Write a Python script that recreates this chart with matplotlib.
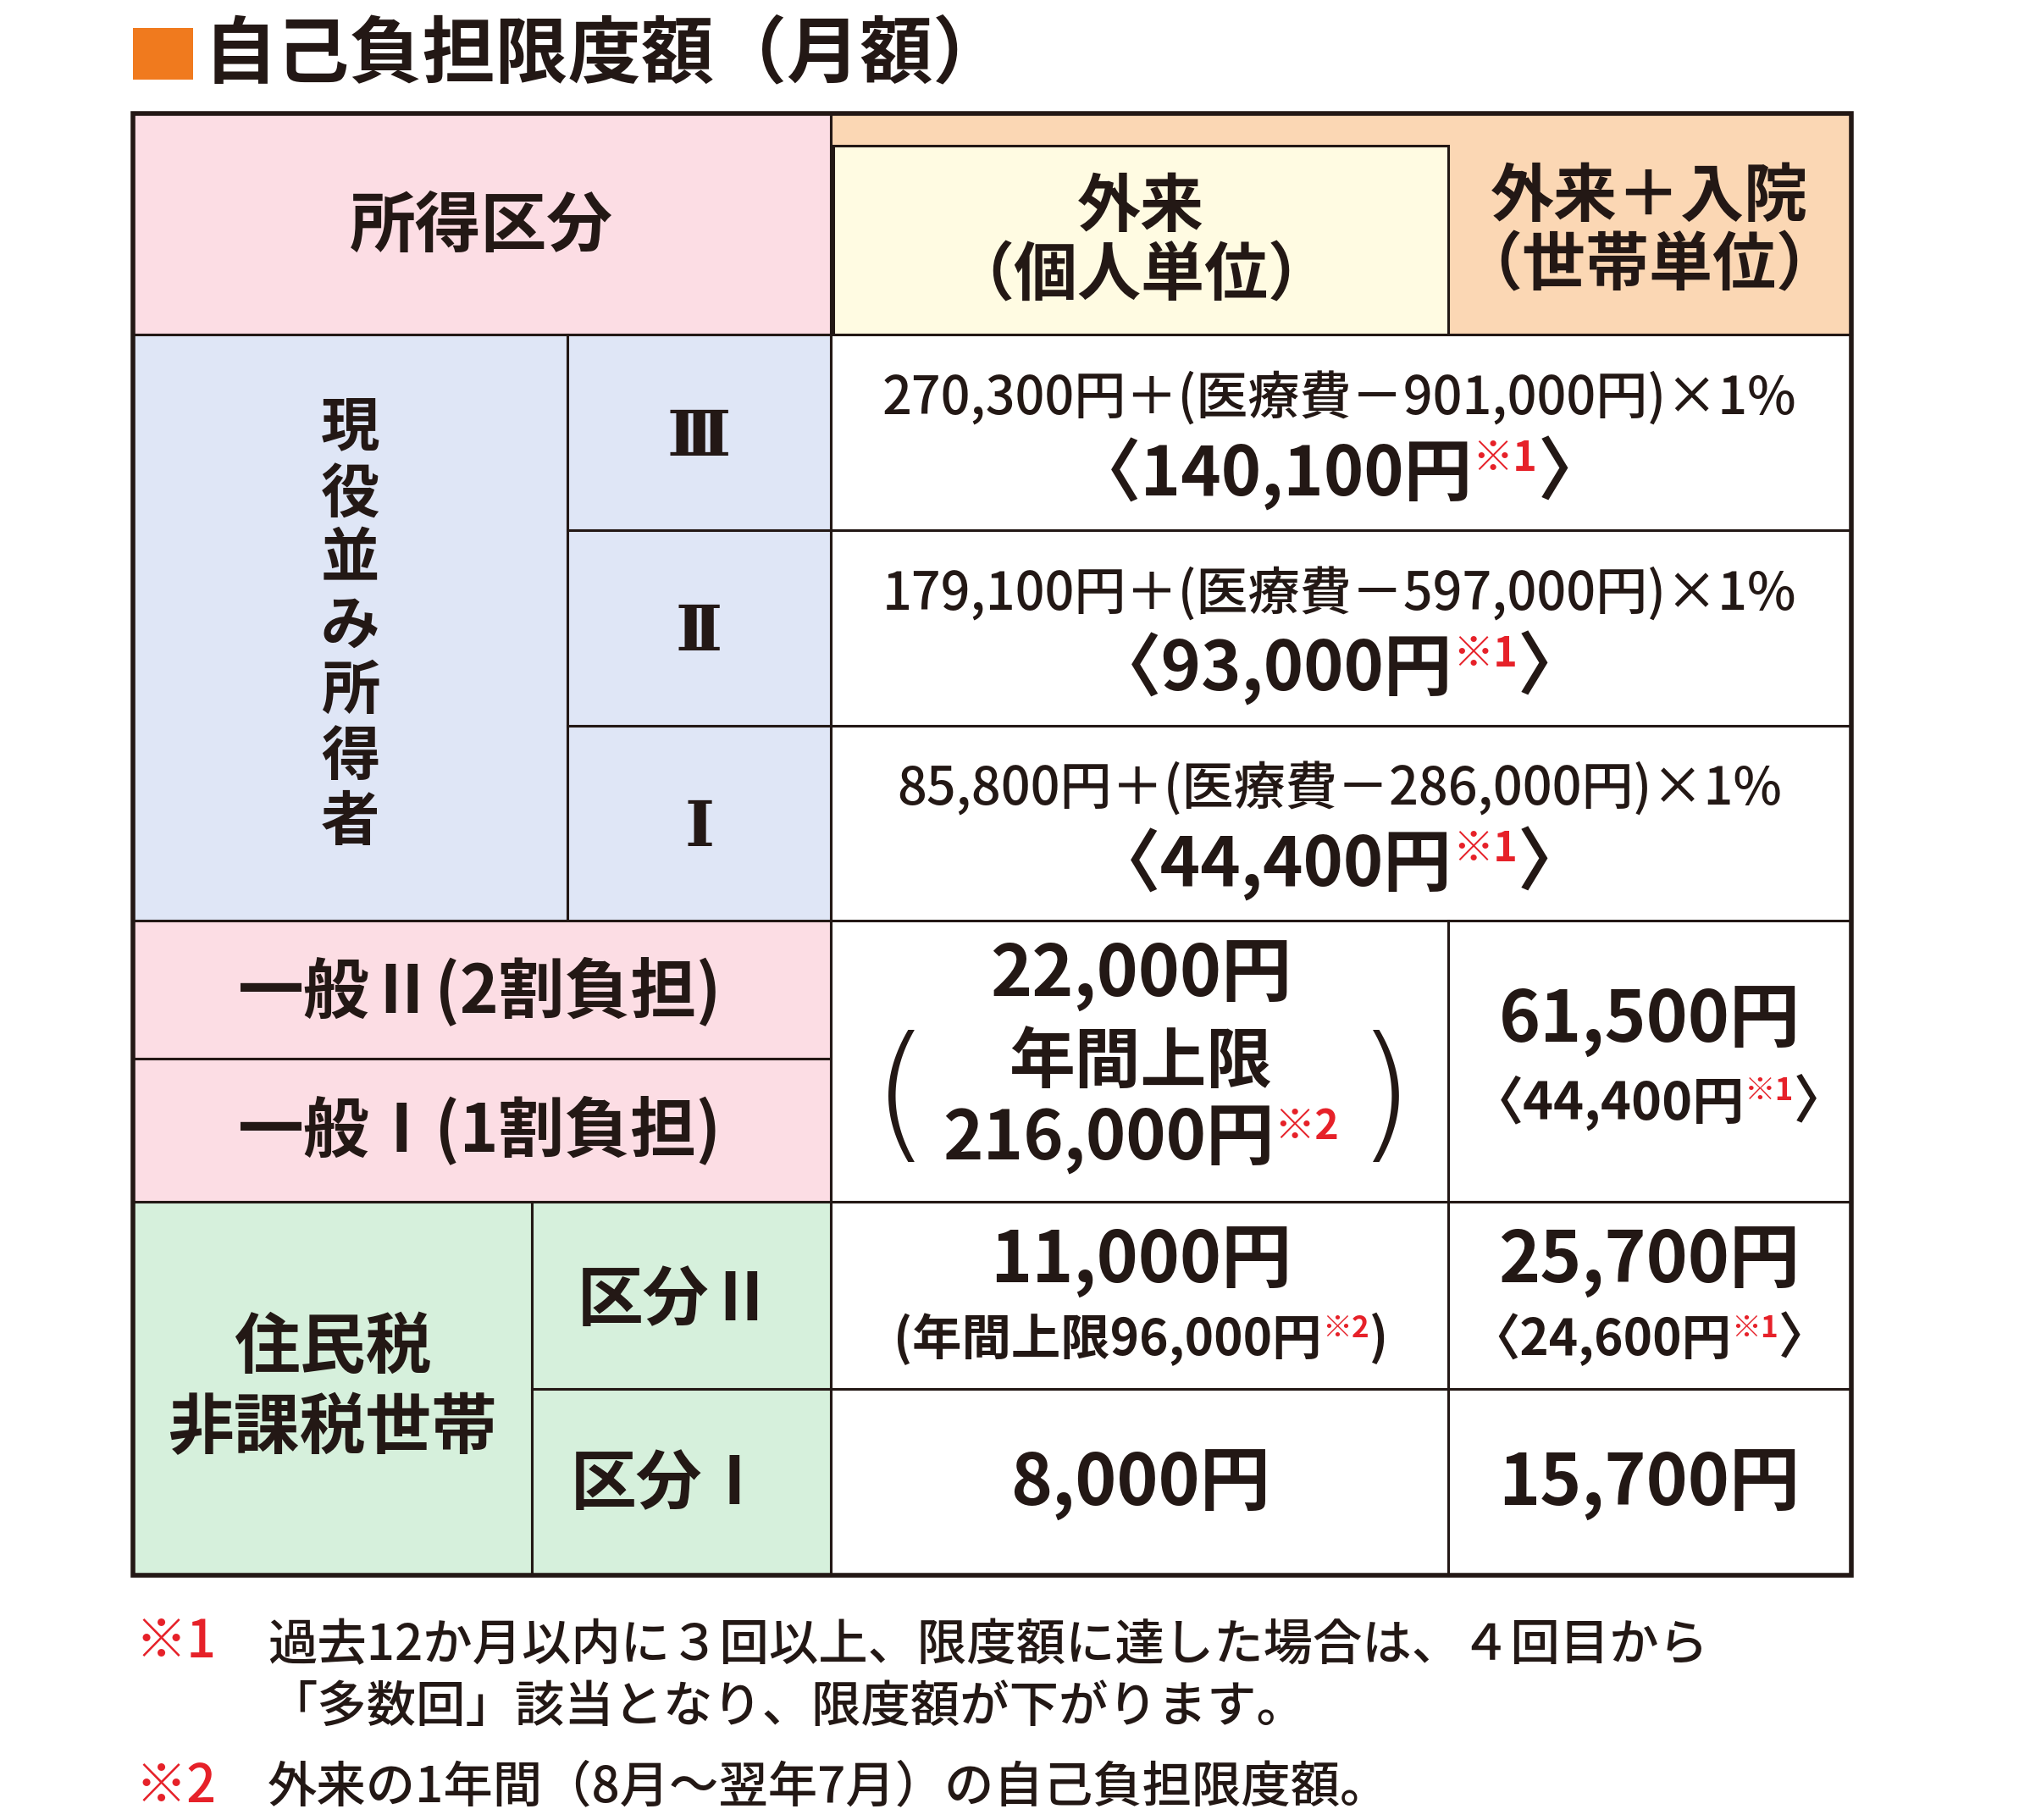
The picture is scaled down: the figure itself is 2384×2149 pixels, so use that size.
import matplotlib.pyplot as plt
from matplotlib.patches import Rectangle

plt.rcParams['font.family'] = ['Noto Sans CJK JP', 'DejaVu Sans']
plt.rcParams['font.weight'] = 'bold'

title = "自己負担限度額（月額）"
header_left = "所得区分"
header_mid = "外来\n（個人単位）"
header_right = "外来＋入院\n（世帯単位）"
genneki_label = "現役並み所得者"
genneki_levels = ["Ⅲ", "Ⅱ", "Ⅰ"]
genneki_formula = ["270,300円＋(医療費－901,000円)×1%",
                   "179,100円＋(医療費－597,000円)×1%",
                   "85,800円＋(医療費－286,000円)×1%"]
genneki_multi = ["〈140,100円", "〈93,000円", "〈44,400円"]
ippan_labels = ["一般Ⅱ(2割負担)", "一般Ⅰ(1割負担)"]
ippan_out = ["22,000円", "年間上限", "216,000円"]
ippan_all = ["61,500円", "〈44,400円"]
hikazei_label = "住民税\n非課税世帯"
hikazei_levels = ["区分Ⅱ", "区分Ⅰ"]
hikazei_out = [("11,000円", "(年間上限96,000円", "※2", ")"), ("8,000円",)]
hikazei_all = [("25,700円", "〈24,600円", "※1", "〉"), ("15,700円",)]
notes = [("※1", "過去12か月以内に３回以上、限度額に達した場合は、４回目から\n「多数回」該当となり、限度額が下がります。"),
         ("※2", "外来の1年間（8月～翌年7月）の自己負担限度額。")]

PINK, BLUE, YEL, ORG, GRN = "#fcdde4", "#dfe6f6", "#fffbe2", "#fbd7b4", "#d6f0dc"
RED = "#e62129"
INK = "#231815"

fig = plt.figure(figsize=(23.84, 21.49), dpi=100)
ax = fig.add_axes([0, 0, 1, 1])
ax.set_xlim(0, 1568)
ax.set_ylim(1413, 0)
ax.axis('off')
fig.canvas.draw()
renderer = fig.canvas.get_renderer()


def cell(x0, y0, x1, y1, fc):
    ax.add_patch(Rectangle((x0, y0), x1 - x0, y1 - y0, fc=fc, ec=INK, lw=2.2))


def rich(xc, yc, parts, size, ha='center'):
    ts = []
    for s, c, k, dy in parts:
        t = ax.text(0, yc + dy, s, fontsize=size * k, color=c, va='center', ha='left')
        ts.append(t)
    inv = ax.transData.inverted()
    widths = []
    for t in ts:
        bb = t.get_window_extent(renderer)
        p0 = inv.transform((bb.x0, bb.y0))
        p1 = inv.transform((bb.x1, bb.y1))
        widths.append(p1[0] - p0[0])
    x = xc - sum(widths) / 2 if ha == 'center' else xc
    for t, w in zip(ts, widths):
        t.set_x(x)
        x += w


# title
ax.add_patch(Rectangle((103, 22), 47, 40, fc="#f07a1e", ec='none'))
ax.text(158, 43, title, fontsize=62, color=INK, va='center', ha='left')

# header
cell(103, 88, 645, 260, PINK)
cell(645, 88, 1438, 260, ORG)
cell(647, 113, 1125, 260, YEL)
ax.text(374, 176, header_left, fontsize=56, color=INK, ha='center', va='center')
ax.text(886, 188, header_mid, fontsize=54, color=INK, ha='center', va='center', linespacing=1.1)
ax.text(1281, 180, header_right, fontsize=54, color=INK, ha='center', va='center', linespacing=1.1)

# genneki rows
cell(103, 260, 441, 715, BLUE)
for i, ch in enumerate(genneki_label):
    ax.text(272, 333 + i * 51, ch, fontsize=50, color=INK, ha='center', va='center')
for i, lv in enumerate(genneki_levels):
    y0 = 260 + i * 151.7
    cell(441, y0, 645, y0 + 151.7, BLUE)
    cell(645, y0, 1438, y0 + 151.7, "white")
    ax.text(543, y0 + 80, lv, fontsize=54, color=INK, ha='center', va='center',
            family='DejaVu Serif')
    ax.text(1040, y0 + 50, genneki_formula[i], fontsize=44, color=INK, ha='center',
            va='center', fontweight='medium')
    rich(1040, y0 + 108, [(genneki_multi[i], INK, 1, 0), ("※1", RED, 0.6, -12),
                          ("〉", INK, 1, 0)], 58)

# ippan rows
cell(103, 715, 645, 822, PINK)
cell(103, 822, 645, 933, PINK)
ax.text(372, 770, ippan_labels[0], fontsize=56, color=INK, ha='center', va='center')
ax.text(372, 878, ippan_labels[1], fontsize=56, color=INK, ha='center', va='center')
cell(645, 715, 1125, 933, "white")
cell(1125, 715, 1438, 933, "white")
ax.text(886, 758, ippan_out[0], fontsize=60, color=INK, ha='center', va='center')
ax.text(886, 825, ippan_out[1], fontsize=56, color=INK, ha='center', va='center')
rich(886, 885, [(ippan_out[2], INK, 1, 0), ("※2", RED, 0.6, -10)], 58)
ax.text(700, 855, "(", fontsize=125, color=INK, ha='center', va='center', fontweight='light',
        family='DejaVu Sans')
ax.text(1076, 855, ")", fontsize=125, color=INK, ha='center', va='center', fontweight='light',
        family='DejaVu Sans')
ax.text(1281, 793, ippan_all[0], fontsize=60, color=INK, ha='center', va='center')
rich(1288, 856, [(ippan_all[1], INK, 1, 0), ("※1", RED, 0.6, -9), ("〉", INK, 1, 0)], 44)

# hikazei rows
cell(103, 933, 413, 1223, GRN)
ax.text(258, 1078, hikazei_label, fontsize=56, color=INK, ha='center', va='center',
        linespacing=1.25)
cell(413, 933, 645, 1078, GRN)
cell(413, 1078, 645, 1223, GRN)
ax.text(525, 1010, hikazei_levels[0], fontsize=56, color=INK, ha='center', va='center')
ax.text(520, 1153, hikazei_levels[1], fontsize=56, color=INK, ha='center', va='center')
cell(645, 933, 1125, 1078, "white")
cell(1125, 933, 1438, 1078, "white")
cell(645, 1078, 1125, 1223, "white")
cell(1125, 1078, 1438, 1223, "white")
o, a = hikazei_out[0], hikazei_all[0]
ax.text(886, 980, o[0], fontsize=60, color=INK, ha='center', va='center')
rich(886, 1040, [(o[1], INK, 1, 0), (o[2], RED, 0.6, -9), (o[3], INK, 1, 0)], 42)
ax.text(1281, 980, a[0], fontsize=60, color=INK, ha='center', va='center')
rich(1281, 1040, [(a[1], INK, 1, 0), (a[2], RED, 0.6, -9), (a[3], INK, 1, 0)], 42)
ax.text(886, 1153, hikazei_out[1][0], fontsize=60, color=INK, ha='center', va='center')
ax.text(1281, 1153, hikazei_all[1][0], fontsize=60, color=INK, ha='center', va='center')

# thick outer border
ax.add_patch(Rectangle((103, 88), 1335, 1135, fc='none', ec=INK, lw=4))

# notes
ax.text(105, 1275, notes[0][0], fontsize=44, color=RED, ha='left', va='center',
        fontweight='medium')
ax.text(208, 1302, notes[0][1], fontsize=42, color=INK, ha='left', va='center',
        linespacing=1.3, fontweight='medium')
ax.text(105, 1388, notes[1][0], fontsize=44, color=RED, ha='left', va='center',
        fontweight='medium')
ax.text(208, 1388, notes[1][1], fontsize=42, color=INK, ha='left', va='center',
        fontweight='medium')

fig.savefig("out.png", dpi=100)
